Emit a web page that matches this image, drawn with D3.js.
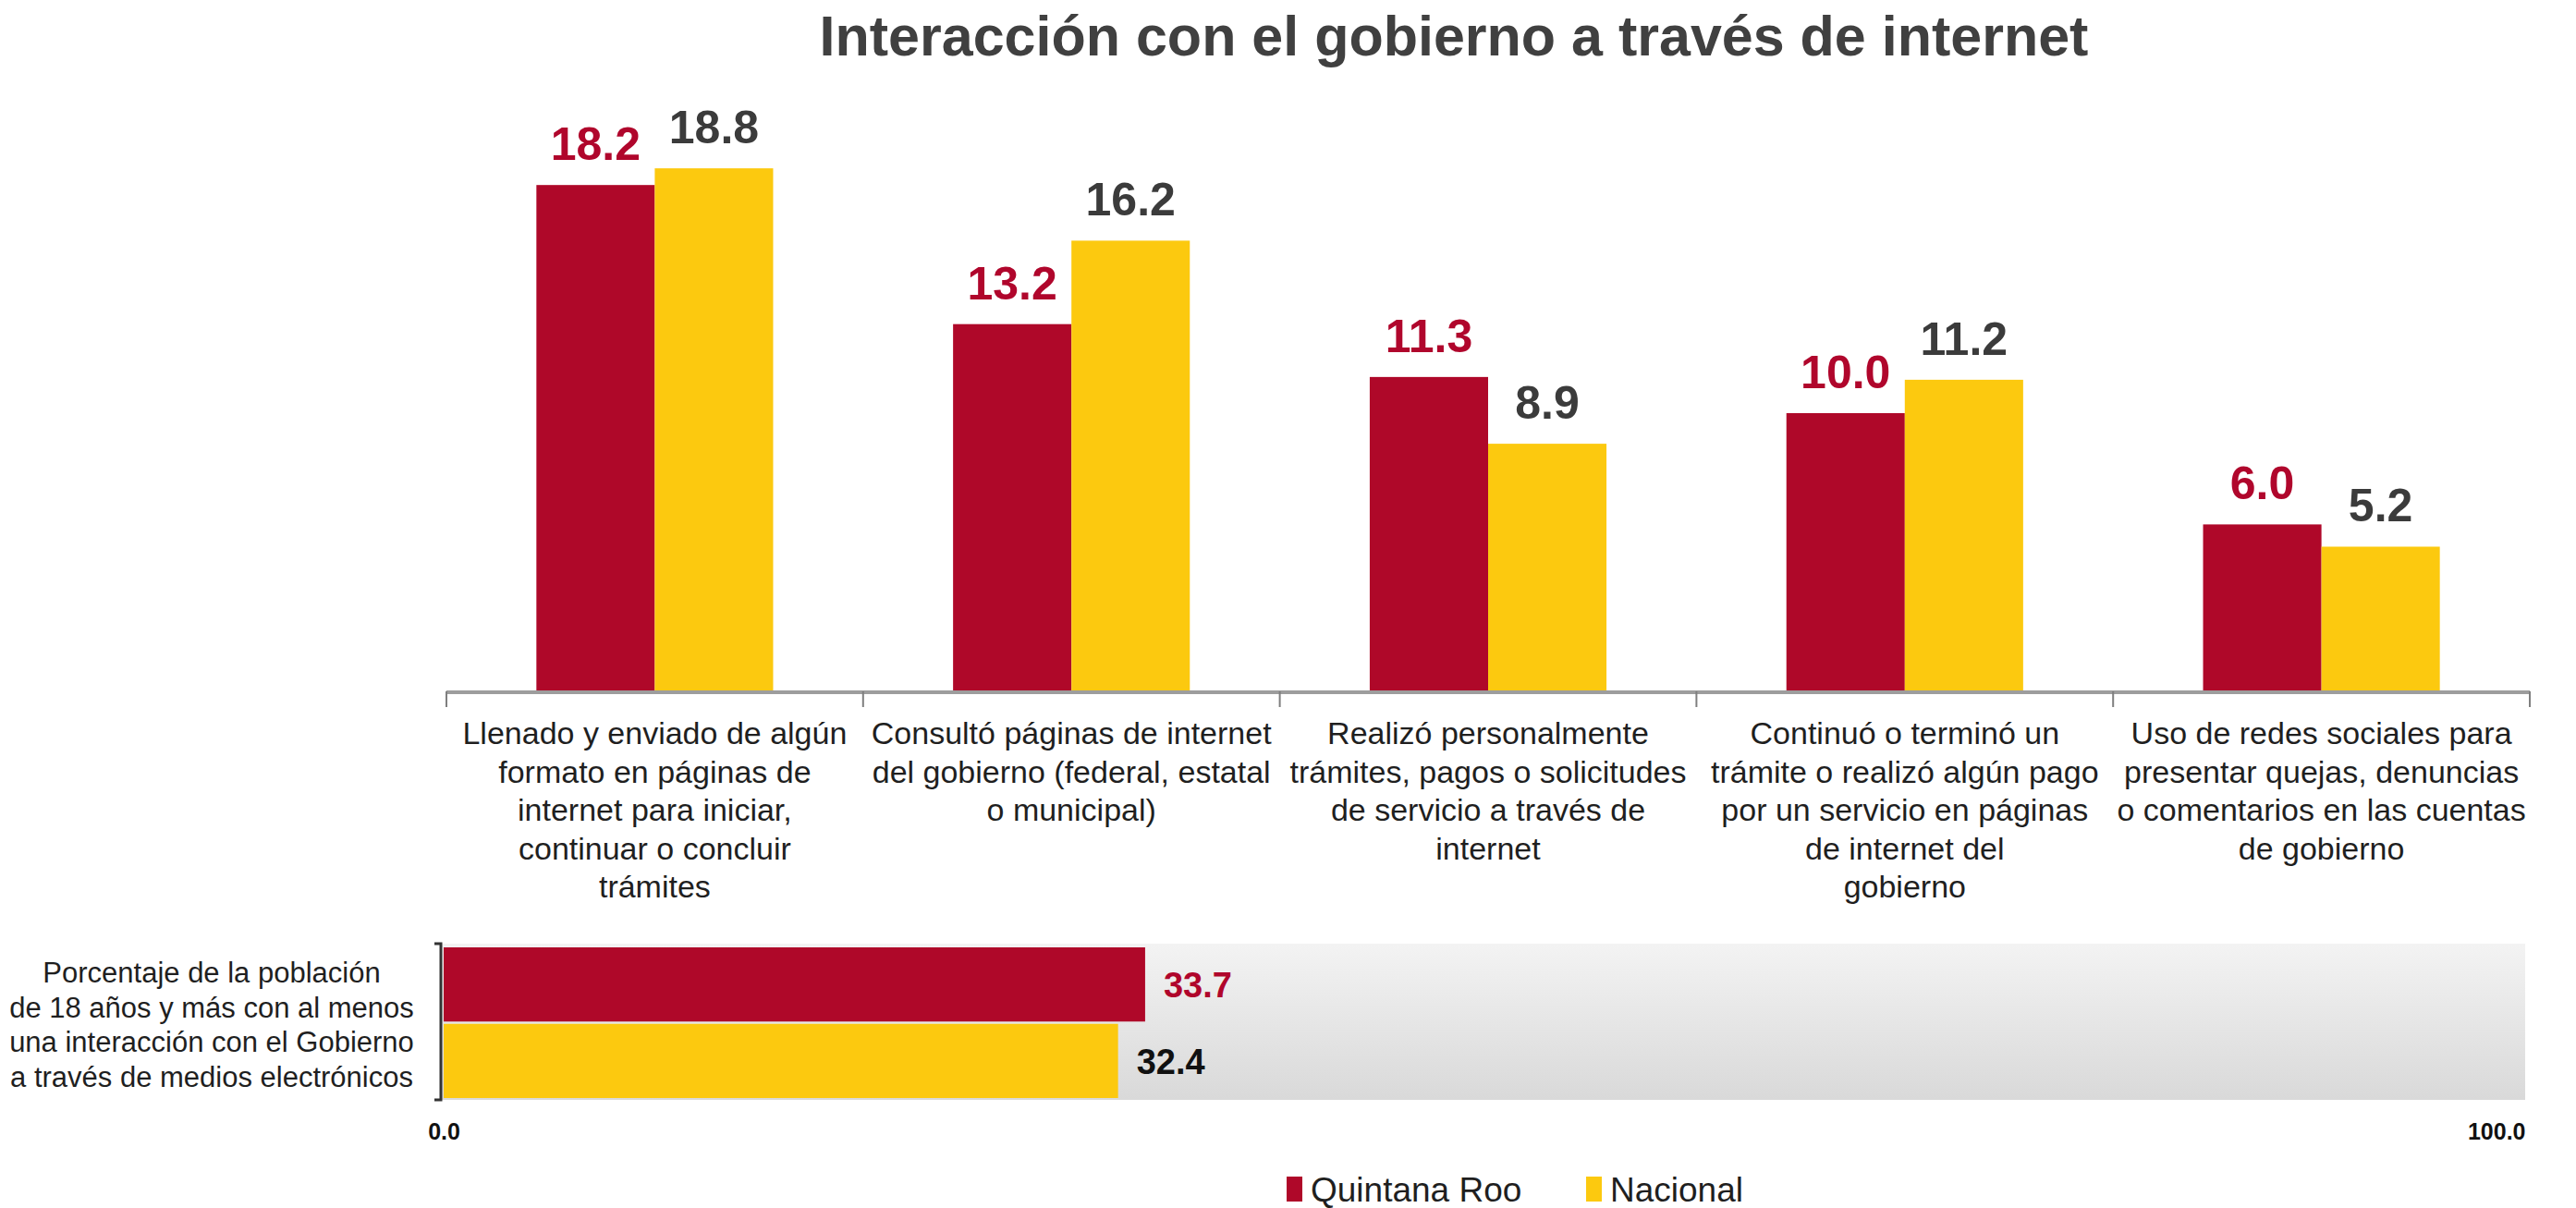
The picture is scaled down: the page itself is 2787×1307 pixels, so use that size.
<!DOCTYPE html>
<html>
<meta charset="utf-8">
<head>
<style>
body { margin:0; padding:0; background:#fff; }
svg { display:block; }
text { font-family: "Liberation Sans", Arial, sans-serif; }
</style>
</head>
<body>
<svg></svg>
<script src="https://d3js.org/d3.v7.min.js"></script>
<script>

// data
var title = "Interacción con el gobierno a través de internet";
var seriesNames = ["Quintana Roo", "Nacional"];
var categories = [
  ["Llenado y enviado de algún", "formato en páginas de", "internet para iniciar,", "continuar o concluir", "trámites"],
  ["Consultó páginas de internet", "del gobierno (federal, estatal", "o municipal)"],
  ["Realizó personalmente", "trámites, pagos o solicitudes", "de servicio a través de", "internet"],
  ["Continuó o terminó un", "trámite o realizó algún pago", "por un servicio en páginas", "de internet del", "gobierno"],
  ["Uso de redes sociales para", "presentar quejas, denuncias", "o comentarios en las cuentas", "de gobierno"]
];
var quintanaRoo = [18.2, 13.2, 11.3, 10.0, 6.0];
var nacional = [18.8, 16.2, 8.9, 11.2, 5.2];

var totalLabel = ["Porcentaje de la población", "de 18 años y más con al menos", "una interacción con el Gobierno", "a través de medios electrónicos"];
var totalValues = [33.7, 32.4];
var totalTicks = [0, 100];

var colors = ["#af0829", "#fcc90f"];
var labelColors = ["#b0062c", "#3b3b3b"];

var width = 2787, height = 1307;
var svg = d3.select("svg").attr("width", width).attr("height", height);

svg.append("text")
  .attr("x", 1573).attr("y", 60)
  .attr("text-anchor", "middle")
  .attr("font-size", 61).attr("font-weight", "bold")
  .attr("fill", "#404040")
  .text(title);

// ---- top grouped bars
var x0 = d3.scaleBand().domain(d3.range(categories.length)).range([483, 2737]);
var x1 = d3.scaleBand().domain([0, 1]).range([0, x0.bandwidth()]).paddingOuter(0.76);
var y = d3.scaleLinear().domain([0, 20]).range([748, 146]);

var rows = categories.map(function(c, i) { return [quintanaRoo[i], nacional[i]]; });

var groups = svg.append("g").selectAll("g")
  .data(rows).enter().append("g")
  .attr("transform", function(d, i) { return "translate(" + x0(i) + ",0)"; });

groups.selectAll("rect")
  .data(function(d) { return d; })
  .enter().append("rect")
  .attr("x", function(d, j) { return x1(j); })
  .attr("width", x1.bandwidth())
  .attr("y", function(d) { return y(d); })
  .attr("height", function(d) { return y(0) - y(d); })
  .attr("fill", function(d, j) { return colors[j]; });

groups.selectAll("text.val")
  .data(function(d) { return d; })
  .enter().append("text")
  .attr("class", "val")
  .attr("x", function(d, j) { return x1(j) + x1.bandwidth() / 2; })
  .attr("y", function(d) { return y(d) - 27; })
  .attr("text-anchor", "middle")
  .attr("font-size", 50).attr("font-weight", "bold")
  .attr("fill", function(d, j) { return labelColors[j]; })
  .text(function(d) { return d.toFixed(1); });

// category axis
var axis = svg.append("g");
axis.append("line")
  .attr("x1", x0.range()[0]).attr("x2", x0.range()[1])
  .attr("y1", y(0) + 1).attr("y2", y(0) + 1)
  .attr("stroke", "#9d9d9d").attr("stroke-width", 4);
axis.selectAll("line.tick")
  .data(d3.range(categories.length + 1)).enter().append("line")
  .attr("class", "tick")
  .attr("x1", function(i) { return x0.range()[0] + i * x0.step(); })
  .attr("x2", function(i) { return x0.range()[0] + i * x0.step(); })
  .attr("y1", y(0)).attr("y2", y(0) + 17)
  .attr("stroke", "#7f7f7f").attr("stroke-width", 2);

var catText = axis.selectAll("text.cat")
  .data(categories).enter().append("text")
  .attr("class", "cat")
  .attr("text-anchor", "middle")
  .attr("font-size", 34)
  .attr("fill", "#1f1f1f");
catText.selectAll("tspan")
  .data(function(d, i) { return d.map(function(s) { return { s: s, i: i }; }); })
  .enter().append("tspan")
  .attr("x", function(d) { return x0(d.i) + x0.bandwidth() / 2; })
  .attr("y", function(d, k) { return 805 + k * 41.5; })
  .text(function(d) { return d.s; });

// ---- bottom horizontal bar
var xb = d3.scaleLinear().domain([0, 100]).range([480, 2732]);
var yb = d3.scaleBand().domain([0, 1]).range([1025, 1188]).paddingInner(0.03);

var defs = svg.append("defs");
var grad = defs.append("linearGradient").attr("id", "bg")
  .attr("x1", 0).attr("y1", 0).attr("x2", 0).attr("y2", 1);
grad.append("stop").attr("offset", "0%").attr("stop-color", "#f3f3f3");
grad.append("stop").attr("offset", "100%").attr("stop-color", "#d9d9d9");

svg.append("rect")
  .attr("x", xb(0) - 4).attr("y", 1021)
  .attr("width", xb(100) - xb(0) + 4).attr("height", 169)
  .attr("fill", "url(#bg)");

svg.append("g").selectAll("rect")
  .data(totalValues).enter().append("rect")
  .attr("x", xb(0))
  .attr("y", function(d, j) { return yb(j); })
  .attr("width", function(d) { return xb(d) - xb(0); })
  .attr("height", yb.bandwidth())
  .attr("fill", function(d, j) { return colors[j]; });

svg.append("g").selectAll("text")
  .data(totalValues).enter().append("text")
  .attr("x", function(d) { return xb(d) + 20; })
  .attr("y", function(d, j) { return yb(j) + yb.bandwidth() / 2; })
  .attr("dy", "0.36em")
  .attr("font-size", 38).attr("font-weight", "bold")
  .attr("fill", function(d, j) { return j === 0 ? "#b0062c" : "#111"; })
  .text(function(d) { return d.toFixed(1); });

// left vertical axis of bottom chart
var vax = svg.append("g").attr("stroke", "#333").attr("stroke-width", 3).attr("fill", "none");
vax.append("path")
  .attr("d", "M" + (xb(0) - 10) + ",1021H" + (xb(0) - 3) + "V1190H" + (xb(0) - 10));

var lbl = svg.append("text")
  .attr("text-anchor", "middle")
  .attr("font-size", 31)
  .attr("fill", "#1f1f1f");
lbl.selectAll("tspan")
  .data(totalLabel).enter().append("tspan")
  .attr("x", 229)
  .attr("y", function(d, k) { return 1063 + k * 37.5; })
  .text(function(d) { return d; });

var bAxis = svg.append("g")
  .attr("transform", "translate(0,1212)")
  .call(d3.axisBottom(xb).tickValues(totalTicks).tickSize(0).tickFormat(d3.format(".1f")));
bAxis.select(".domain").remove();
bAxis.selectAll("text")
  .attr("font-family", "'Liberation Sans', Arial, sans-serif")
  .attr("font-size", 25).attr("font-weight", "bold").attr("fill", "#111")
  .attr("text-anchor", function(d) { return d === 100 ? "end" : "middle"; });

// legend
var legendX = [1392, 1716];
var leg = svg.append("g").selectAll("g")
  .data(seriesNames).enter().append("g")
  .attr("transform", function(d, i) { return "translate(" + legendX[i] + ",1273)"; });
leg.append("rect")
  .attr("width", 17).attr("height", 27)
  .attr("fill", function(d, i) { return colors[i]; });
leg.append("text")
  .attr("x", 26).attr("y", 14).attr("dy", "0.36em")
  .attr("font-size", 37).attr("fill", "#1f1f1f")
  .text(function(d) { return d; });

</script>
</body>
</html>
